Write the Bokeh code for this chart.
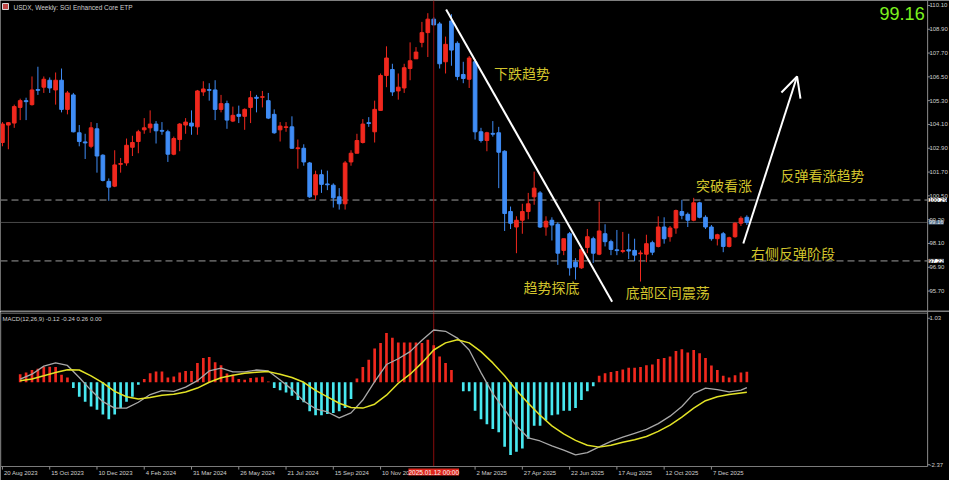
import pandas as pd
from bokeh.plotting import figure
from bokeh.layouts import column
from bokeh.models import Range1d, Label, Span, Arrow, OpenHead, ColumnDataSource
from bokeh.embed import file_html
from bokeh.resources import INLINE
from bokeh.core.properties import value

# ---------------- data (weekly USDX candles) ----------------
start_date = "2023-08-20"
opens = [103.19, 104.07, 104.17, 104.96, 105.30, 105.10, 105.86, 105.98, 106.33, 105.84,
         106.33, 104.86, 105.59, 103.68, 103.22, 103.00, 103.88, 102.55, 101.23, 100.99,
         102.09, 102.16, 102.95, 103.24, 103.83, 103.93, 104.12, 103.80, 103.73, 102.60,
         103.34, 104.07, 104.17, 103.98, 105.74, 105.86, 105.84, 104.86, 105.15, 104.27,
         104.61, 104.51, 104.96, 105.47, 105.47, 105.30, 104.61, 103.83, 103.95, 103.98,
         102.88, 102.90, 102.16, 100.55, 101.57, 101.10, 101.04, 100.45, 100.10, 102.21,
         102.65, 103.19, 104.19, 103.73, 104.81, 106.57, 106.87, 105.79, 105.94, 106.92,
         107.41, 108.24, 108.73, 109.41, 109.17, 107.26, 109.32, 108.19, 106.62, 106.38,
         107.26, 103.73, 103.29, 103.65, 103.68, 102.75, 99.71, 98.93, 99.27, 99.71,
         100.45, 100.65, 98.93, 99.27, 99.07, 97.75, 98.59, 97.16, 96.87, 97.90,
         98.34, 97.56, 98.59, 98.19, 97.78, 97.70, 97.78, 97.75, 97.58, 97.56,
         98.14, 97.95, 98.93, 98.44, 98.88, 99.71, 99.57, 99.27, 100.15, 99.42,
         98.93, 98.34, 98.59, 97.95, 98.44, 99.12, 99.42]
highs = [104.22, 104.22, 105.10, 105.40, 105.45, 106.52, 107.01, 106.52, 106.47, 106.72,
         106.92, 105.79, 105.69, 104.07, 103.63, 104.22, 104.17, 102.60, 101.38, 102.80,
         102.41, 103.39, 103.53, 103.83, 104.42, 104.81, 104.27, 104.22, 103.83, 103.49,
         104.17, 104.42, 104.81, 105.84, 106.28, 106.18, 106.33, 105.59, 105.30, 105.00,
         105.05, 104.91, 105.79, 105.59, 105.79, 105.69, 104.86, 104.22, 104.22, 104.51,
         103.34, 103.10, 102.21, 101.77, 101.82, 101.77, 101.13, 100.89, 102.26, 102.80,
         103.63, 104.37, 104.47, 105.30, 106.67, 108.04, 107.16, 106.67, 107.16, 108.24,
         108.00, 109.27, 109.71, 109.51, 109.27, 108.53, 109.66, 108.29, 107.26, 107.55,
         107.40, 103.93, 103.73, 104.27, 103.98, 102.80, 99.96, 99.47, 100.10, 100.65,
         101.72, 100.74, 99.47, 99.42, 99.17, 98.34, 98.68, 97.36, 97.95, 98.83,
         98.44, 100.20, 99.07, 98.29, 98.78, 98.68, 98.59, 98.34, 97.75, 98.54,
         98.24, 99.47, 99.42, 98.98, 99.81, 100.30, 99.66, 100.40, 100.20, 99.52,
         99.03, 98.59, 98.68, 98.44, 99.17, 99.47, 99.52]
lows = [103.00, 102.85, 103.93, 104.32, 104.32, 105.05, 105.59, 105.69, 105.69, 105.10,
        104.71, 104.61, 103.70, 103.00, 102.36, 102.90, 101.67, 101.23, 100.25, 100.94,
        101.67, 102.02, 102.51, 102.65, 103.63, 103.68, 103.14, 103.58, 102.21, 102.55,
        102.75, 103.63, 103.58, 103.58, 105.54, 105.30, 104.32, 104.71, 103.88, 104.22,
        104.17, 103.83, 104.17, 104.71, 104.96, 104.37, 103.63, 103.24, 103.73, 102.88,
        101.87, 102.02, 100.40, 100.30, 100.65, 100.79, 99.91, 99.81, 99.81, 102.02,
        102.65, 103.14, 103.98, 103.19, 104.81, 105.98, 105.54, 105.35, 105.69, 106.33,
        107.41, 107.99, 107.50, 109.12, 106.92, 106.67, 107.06, 106.33, 106.18, 105.94,
        103.34, 103.19, 102.75, 103.49, 100.89, 98.73, 98.83, 97.61, 98.59, 99.32,
        100.05, 98.88, 98.49, 98.25, 97.02, 97.51, 96.48, 96.28, 96.82, 97.61,
        97.12, 97.51, 97.95, 97.51, 97.51, 97.61, 97.31, 97.21, 96.18, 97.16,
        97.51, 97.90, 98.09, 98.19, 98.59, 99.32, 98.93, 99.22, 99.37, 98.83,
        98.24, 98.00, 97.66, 97.90, 98.39, 98.98, 99.03]
closes = [104.12, 104.19, 105.00, 105.30, 105.25, 105.84, 105.82, 106.38, 105.94, 106.33,
          104.86, 105.69, 103.73, 103.24, 103.17, 103.93, 102.51, 101.28, 100.94, 102.06,
          102.13, 103.05, 103.19, 103.73, 103.93, 104.12, 103.78, 103.76, 102.60, 103.39,
          104.12, 104.22, 104.02, 105.79, 105.89, 105.82, 104.86, 105.15, 104.32, 104.56,
          104.51, 104.86, 105.45, 105.42, 105.50, 104.42, 103.68, 104.02, 103.98, 102.90,
          102.92, 102.21, 100.45, 101.57, 101.08, 101.06, 100.40, 100.10, 102.16, 102.65,
          103.29, 104.12, 104.15, 104.86, 106.57, 107.45, 105.74, 105.98, 106.96, 107.31,
          107.75, 108.73, 109.41, 109.12, 107.16, 108.14, 107.85, 106.52, 106.42, 107.45,
          103.73, 103.29, 103.68, 103.61, 102.70, 99.61, 99.12, 99.27, 99.71, 100.10,
          100.89, 98.93, 99.22, 99.03, 97.61, 98.34, 96.87, 96.92, 97.80, 98.44,
          97.61, 98.73, 98.19, 97.80, 97.74, 97.74, 97.72, 97.51, 97.62, 98.09,
          97.66, 98.93, 98.34, 98.88, 99.76, 99.52, 99.27, 100.15, 99.42, 98.93,
          98.34, 98.54, 97.95, 98.39, 99.12, 99.37, 99.16]

# MACD histogram (starts at the 4th week) and the two lines (sampled every 2 weeks)
macd_hist = [0.184, 0.221, 0.280, 0.309, 0.353, 0.353, 0.346, 0.169, 0.110,
             -0.132, -0.331, -0.442, -0.552, -0.626, -0.736, -0.846, -0.736, -0.589, -0.442, -0.331, -0.059,
             0.074, 0.206, 0.243, 0.243, 0.110, 0.132, 0.221, 0.258, 0.258, 0.442, 0.552, 0.574, 0.456,
             0.390, 0.199, 0.169, 0.074, 0.059, 0.096, 0.110, 0.125, 0.015,
             -0.132, -0.184, -0.235, -0.309, -0.405, -0.456, -0.662, -0.751, -0.751, -0.721, -0.699,
             -0.662, -0.589, -0.383,
             0.088, 0.346, 0.515, 0.773, 0.898, 1.126, 1.016, 0.905, 0.905, 0.905, 0.905, 0.898, 0.972,
             0.846, 0.589, 0.442, 0.280,
             0.0,
             -0.206, -0.206, -0.648, -0.846, -0.957, -1.067, -1.141, -1.472, -1.656, -1.582, -1.509,
             -1.288, -0.994, -0.994, -0.868, -0.751, -0.736, -0.648, -0.648, -0.589, -0.405, -0.206, -0.088,
             0.147, 0.206, 0.236, 0.258, 0.294, 0.331, 0.331, 0.346, 0.390, 0.405, 0.530, 0.552, 0.589,
             0.714, 0.751, 0.677, 0.736, 0.662, 0.552, 0.383, 0.280, 0.147, 0.110, 0.162, 0.221, 0.240]
line_weeks = list(range(4, 127, 2)) + [127]
macd_main = [0.074, 0.184, 0.368, 0.442, 0.383, 0.110, -0.184, -0.442, -0.589, -0.589,
             -0.456, -0.280, -0.191, -0.206, -0.110, 0.037, 0.258, 0.324, 0.236, 0.236,
             0.280, 0.258, 0.052, -0.162, -0.427, -0.604, -0.677, -0.810, -0.699, -0.405,
             0.015, 0.405, 0.537, 0.699, 0.957, 1.192, 1.163, 1.008, 0.736, 0.221,
             -0.258, -0.626, -0.994, -1.266, -1.339, -1.450, -1.546, -1.656, -1.604, -1.472,
             -1.347, -1.251, -1.163, -1.075, -0.942, -0.773, -0.552, -0.258, -0.132, -0.169,
             -0.221, -0.177, -0.120]
macd_signal = [0.037, 0.074, 0.147, 0.221, 0.287, 0.280, 0.147, -0.015, -0.206, -0.331,
               -0.383, -0.346, -0.294, -0.272, -0.221, -0.132, 0.000, 0.103, 0.162, 0.206,
               0.228, 0.243, 0.184, 0.110, 0.000, -0.184, -0.331, -0.478, -0.574, -0.589,
               -0.500, -0.294, -0.022, 0.184, 0.442, 0.736, 0.898, 0.972, 0.898, 0.699,
               0.442, 0.147, -0.184, -0.478, -0.751, -0.994, -1.178, -1.325, -1.435, -1.479,
               -1.435, -1.369, -1.310, -1.236, -1.119, -0.979, -0.795, -0.589, -0.420, -0.331,
               -0.280, -0.243, -0.225]

price_ticks = [95.70, 96.90, 98.10, 99.30, 100.50, 101.70, 102.90, 104.10, 105.30,
               106.50, 107.70, 108.90, 110.10]
macd_ticks = [1.46, -1.88]
macd_tick_labels = ["1.03", "-2.37"]
date_tick_weeks = [1, 9, 17, 25, 33, 41, 49, 57, 65, 81, 89, 97, 105, 113, 121]
date_tick_labels = ["20 Aug 2023", "15 Oct 2023", "10 Dec 2023", "4 Feb 2024", "31 Mar 2024",
                    "26 May 2024", "21 Jul 2024", "15 Sep 2024", "10 Nov 2024", "2 Mar 2025",
                    "27 Apr 2025", "22 Jun 2025", "17 Aug 2025", "12 Oct 2025", "7 Dec 2025"]
level_high, level_last, level_low = 100.29, 99.16, 97.22
cross_week = 74
cross_label = "2025.01.12 00:00"

notes = ["下跌趋势", "突破看涨", "反弹看涨趋势", "右侧反弹阶段", "趋势探底", "底部区间震荡"]
note_weeks = [84.2, 118.4, 132.7, 127.7, 89.2, 106.5]
note_prices = [106.67, 101.03, 101.57, 97.61, 95.89, 95.65]

# ---------------- helpers / layout constants ----------------
WEEK = pd.Timedelta(days=7)
d0 = pd.Timestamp(start_date)
dates = [d0 + i * WEEK for i in range(len(closes))]


def wk(i):
    return d0 + (i - 1) * WEEK


def ms(t):
    return pd.Timestamp(t).value / 1e6


WEEK_MS = 7 * 86400000.0
RED, BLUE, CYAN = "#f0281e", "#3f8cf5", "#48e8f0"
FONT = "Liberation Sans"
AX = "#8c8c8c"
LBL = "#cfcfcf"
FS = "6px"

X0 = ms(wk(0.67))          # left edge
X_AXIS = ms(wk(157.6))     # price-scale line (right)
X1 = ms(wk(161.3))         # right edge
x_range = Range1d(X0, X1)
TICK = 0.45 * WEEK_MS

P_TOP, P_BOT = 110.35, 94.67
M_TOP, M_BOT = 1.546, -1.921          # MACD sub-window limits
M_VIEW = (-2.240, 1.614)              # incl. separator gap and date-label strip


def base_fig(height, y_range):
    f = figure(width=949, height=height, x_axis_type="datetime", x_axis_location=None,
               y_axis_location=None, x_range=x_range, y_range=y_range,
               output_backend="svg", toolbar_location=None,
               background_fill_color="black", border_fill_color="black", min_border=0)
    f.grid.visible = False
    f.outline_line_color = None
    return f


# ---------------- price panel ----------------
p1 = base_fig(311, Range1d(P_BOT, P_TOP))

up = [c >= o for o, c in zip(opens, closes)]
src = ColumnDataSource(dict(
    x=[ms(d) for d in dates],
    top=[max(o, c) for o, c in zip(opens, closes)],
    bottom=[min(o, c) for o, c in zip(opens, closes)],
    high=highs, low=lows,
    color=[RED if u else BLUE for u in up],
))

# level lines
p1.segment(x0=[X0, X0], x1=[X_AXIS, X_AXIS], y0=[level_high, level_low],
           y1=[level_high, level_low], line_color="#9c9c9c", line_dash="7 4", line_width=1)
p1.segment(x0=[X0], x1=[X_AXIS], y0=[level_last], y1=[level_last],
           line_color="#4a4a4a", line_width=1)
p1.add_layout(Span(location=ms(wk(cross_week)), dimension="height", line_color="#8a0c0c",
                   line_width=1))

p1.segment(x0="x", y0="low", x1="x", y1="high", source=src, line_color="color", line_width=1)
p1.vbar(x="x", width=0.62 * WEEK_MS, top="top", bottom="bottom", source=src,
        fill_color="color", line_color="color", line_width=1)

# trend line and arrow
p1.line(x=[ms(wk(76.1)), ms(wk(104.2))], y=[109.90, 95.16], line_color="white", line_width=2)
p1.add_layout(Arrow(end=OpenHead(size=20, line_color="white", line_width=2),
                    x_start=ms(wk(126.4)), y_start=98.10, x_end=ms(wk(135.5)), y_end=106.52,
                    line_color="white", line_width=2))

p1.text(x=[ms(wk(w)) for w in note_weeks], y=note_prices, text=notes,
        text_font=value("Noto Sans CJK SC"), text_font_size="14px", text_color="#d2c42c",
        text_align="left", text_baseline="middle")

# price scale (right)
p1.segment(x0=[X_AXIS], x1=[X_AXIS], y0=[P_BOT], y1=[P_TOP], line_color=AX, line_width=1)
p1.segment(x0=[X_AXIS] * len(price_ticks), x1=[X_AXIS + TICK] * len(price_ticks),
           y0=price_ticks, y1=price_ticks, line_color=AX, line_width=1)
p1.text(x=[X_AXIS + 0.3 * WEEK_MS] * len(price_ticks), y=price_ticks,
        text=[f"{t:.2f}" for t in price_ticks], text_font=value(FONT), text_font_size=FS,
        text_color=LBL, text_align="left", text_baseline="middle")
for lvl, bg, fg in ((level_high, "white", "black"), (level_last, "#55708f", "#e8e8e8"),
                    (level_low, "white", "black")):
    p1.add_layout(Label(x=X_AXIS, y=lvl, x_offset=1, text=f"{lvl:.2f}",
                        text_font=FONT, text_font_size=FS, text_color=fg,
                        text_baseline="middle", background_fill_color=bg))
# panel frame lines
p1.add_layout(Span(location=X0, dimension="height", line_color="#5a5a5a", line_width=1))
p1.add_layout(Span(location=P_BOT + 0.03, dimension="width", line_color="#6a6a6a", line_width=1))

p1.add_layout(Label(x=X_AXIS, y=P_TOP, x_offset=-3, y_offset=-6, text=f"{closes[-1]:.2f}",
                    text_font=FONT, text_font_size="18px", text_color="#7cf21e",
                    text_align="right", text_baseline="top"))
p1.add_layout(Label(x=X0, y=P_TOP, x_offset=2, y_offset=-3, text="\u2002\u2002",
                    text_font=FONT, text_font_size="6px", text_baseline="top",
                    background_fill_color="#c04848", border_line_color="#d8d8d8"))
p1.add_layout(Label(x=X0, y=P_TOP, x_offset=13, y_offset=-3,
                    text="USDX, Weekly:  SGI Enhanced Core ETP", text_font=FONT,
                    text_font_size="6.5px", text_color=LBL, text_baseline="top"))

# ---------------- MACD panel ----------------
p2 = base_fig(169, Range1d(*M_VIEW))

hsrc = ColumnDataSource(dict(
    x=[ms(d) for d in dates[3:]],
    top=macd_hist,
    color=[RED if v >= 0 else CYAN for v in macd_hist],
))
p2.segment(x0=[ms(wk(cross_week))], x1=[ms(wk(cross_week))], y0=[M_BOT], y1=[M_VIEW[1]],
           line_color="#8a0c0c", line_width=1)
p2.vbar(x="x", width=0.45 * WEEK_MS, top="top", bottom=0, source=hsrc,
        fill_color="color", line_color=None)
lx = [ms(wk(w)) for w in line_weeks]
p2.line(x=lx, y=macd_main, line_color="#a8a8a8", line_width=1.3)
p2.line(x=lx, y=macd_signal, line_color="#e2e226", line_width=1.5)

# frame lines of the sub-window
p2.segment(x0=[X0, X0], x1=[X_AXIS, X_AXIS], y0=[M_TOP + 0.03, M_BOT], y1=[M_TOP + 0.03, M_BOT],
           line_color="#7a7a7a", line_width=1)
p2.segment(x0=[X0 + 0.05 * WEEK_MS], x1=[X0 + 0.05 * WEEK_MS], y0=[M_BOT], y1=[M_TOP + 0.03],
           line_color="#5a5a5a", line_width=1)
# right scale
p2.segment(x0=[X_AXIS], x1=[X_AXIS], y0=[M_BOT], y1=[M_VIEW[1]], line_color=AX, line_width=1)
p2.segment(x0=[X_AXIS] * 2, x1=[X_AXIS + TICK] * 2, y0=macd_ticks, y1=macd_ticks,
           line_color=AX, line_width=1)
p2.text(x=[X_AXIS + 0.3 * WEEK_MS] * 2, y=macd_ticks, text=macd_tick_labels,
        text_font=value(FONT), text_font_size=FS, text_color=LBL,
        text_align="left", text_baseline="middle")
# time scale (bottom)
tick_ms = [ms(wk(w)) for w in date_tick_weeks]
p2.segment(x0=tick_ms, x1=tick_ms, y0=[M_BOT] * len(tick_ms), y1=[M_BOT - 0.07] * len(tick_ms),
           line_color=AX, line_width=1)
p2.text(x=[t + 0.25 * WEEK_MS for t in tick_ms], y=[M_BOT - 0.07] * len(tick_ms),
        text=date_tick_labels, text_font=value(FONT), text_font_size=FS, text_color=LBL,
        text_align="left", text_baseline="top")

p2.add_layout(Label(x=X0, y=M_TOP, x_offset=2, y_offset=-2,
                    text="MACD(12,26,9) -0.12 -0.24 0.26 0.00", text_font=FONT,
                    text_font_size="6px", text_color=LBL, text_baseline="top"))
p2.add_layout(Label(x=ms(wk(cross_week)), y=M_BOT, y_offset=-2, text=cross_label,
                    text_font=FONT, text_font_size="6.5px", text_color="#f4f4f4",
                    text_align="center", text_baseline="top", background_fill_color="#e0261c"))

layout = column(p1, p2, spacing=0)
open("out.html", "w").write(file_html(layout, INLINE))
